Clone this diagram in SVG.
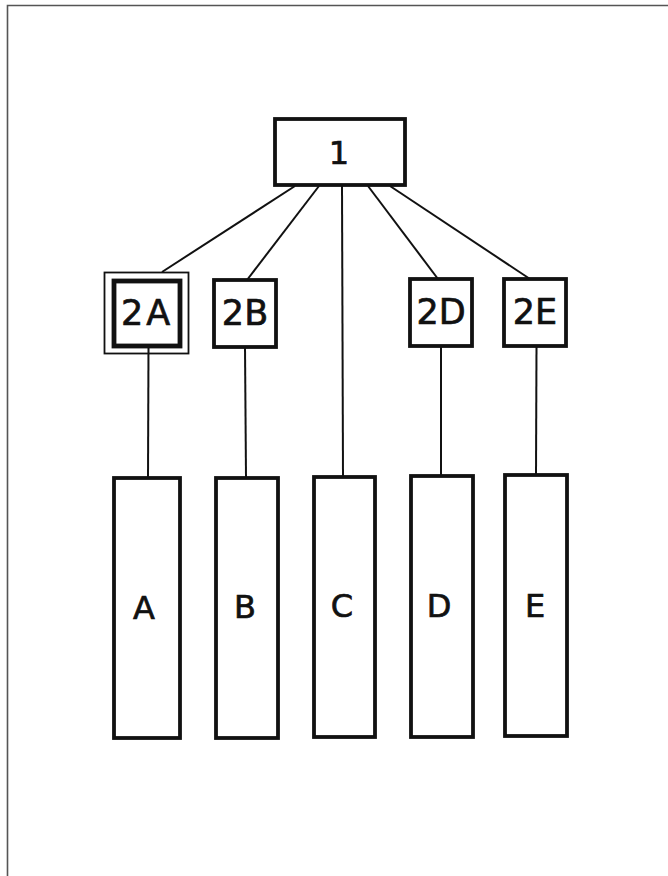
<svg xmlns="http://www.w3.org/2000/svg" width="668" height="876" viewBox="0 0 668 876">
<style>
.box{fill:#fff;stroke:#111;stroke-width:3.8}
.thin{fill:none;stroke:#111;stroke-width:1.8}
.inner{fill:#fff;stroke:#111;stroke-width:4.8}
.con{fill:none;stroke:#111;stroke-width:2}
text{font-family:"DejaVu Sans","Liberation Sans",sans-serif;fill:#111;stroke:#111;stroke-width:0.7;text-anchor:middle;dominant-baseline:central}
.mid{font-size:35px}
.big{font-size:32px}
</style>
<rect width="668" height="876" fill="#fff"/>
<path d="M7.5,876 V5.5 H668" fill="none" stroke="#555" stroke-width="1.6"/>
<g id="connectors">
<line class="con" x1="295" y1="186" x2="162" y2="272"/>
<line class="con" x1="319" y1="186" x2="247" y2="280"/>
<line class="con" x1="342" y1="186" x2="343" y2="477"/>
<line class="con" x1="368" y1="186" x2="438" y2="279"/>
<line class="con" x1="390" y1="186" x2="530" y2="279"/>
<line class="con" x1="148.5" y1="346" x2="148" y2="478"/>
<line class="con" x1="245" y1="347" x2="246" y2="478"/>
<line class="con" x1="441" y1="346" x2="441" y2="476"/>
<line class="con" x1="536.5" y1="346" x2="536" y2="475"/>
</g>
<g id="n1"><rect class="box" x="275" y="119" width="130" height="66"/><text class="big" x="339" y="153">1</text></g>
<g id="n2A"><rect class="thin" x="104.5" y="272.5" width="84" height="81"/><rect class="inner" x="114" y="281" width="66" height="65"/><text class="mid" x="147" y="313" letter-spacing="3">2A</text></g>
<g id="n2B"><rect class="box" x="214" y="280" width="62" height="67"/><text class="mid" x="245" y="313">2B</text></g>
<g id="n2D"><rect class="box" x="410" y="279" width="62" height="67"/><text class="mid" x="441" y="312">2D</text></g>
<g id="n2E"><rect class="box" x="504" y="279" width="62" height="67"/><text class="mid" x="535" y="312">2E</text></g>
<g id="nA"><rect class="box" x="114" y="478" width="66" height="260"/><text class="big" x="144" y="608">A</text></g>
<g id="nB"><rect class="box" x="216" y="478" width="62" height="260"/><text class="big" x="245" y="607">B</text></g>
<g id="nC"><rect class="box" x="314" y="477" width="61" height="260"/><text class="big" x="342" y="606">C</text></g>
<g id="nD"><rect class="box" x="411" y="476" width="62" height="261"/><text class="big" x="439" y="606">D</text></g>
<g id="nE"><rect class="box" x="505" y="475" width="62" height="261"/><text class="big" x="535" y="606">E</text></g>
</svg>
